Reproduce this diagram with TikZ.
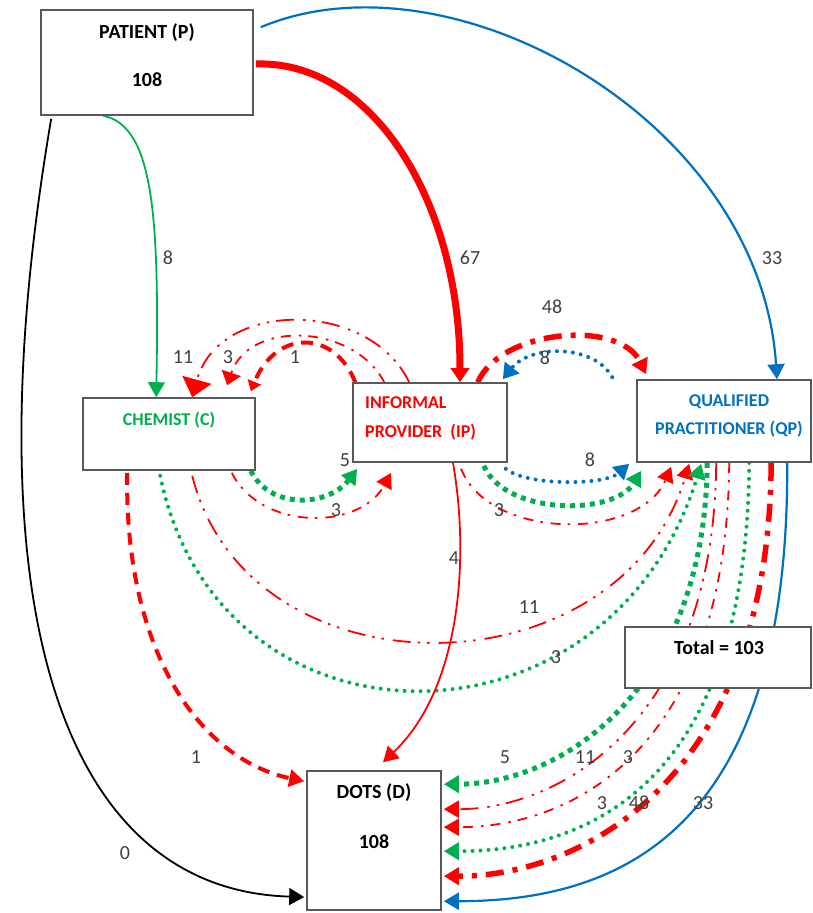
\documentclass[tikz,border=0pt]{standalone}
\usepackage{fontspec}
\setmainfont{Carlito}
\usepackage{xcolor}
\usepackage{tikz}
\usetikzlibrary{arrows.meta, calc, backgrounds}
\definecolor{ggreen}{HTML}{00B050}
\definecolor{gblue}{HTML}{0070C0}
\definecolor{gred}{HTML}{FF0000}
\definecolor{numgray}{HTML}{404040}
\tikzstyle{box} = [draw=black!65, line width=1.6pt, fill=white, inner sep=0pt]
\tikzstyle{headtext} = [font=\fontsize{20}{24}\selectfont\bfseries, inner sep=0pt]
\tikzstyle{boxtext} = [font=\fontsize{18}{22}\selectfont\bfseries, inner sep=0pt]
\tikzstyle{numtext} = [font=\fontsize{20}{24}\selectfont, text=numgray, inner sep=1pt]
\tikzstyle{tip} = [-{Triangle[width=17pt,length=15pt]}]
\tikzstyle{thinline} = [line width=1.8pt]
\tikzstyle{dotdash} = [line width=1.8pt, dash pattern=on 10pt off 7pt on 2.5pt off 8pt]
\tikzstyle{longdotdot} = [line width=1.8pt, dash pattern=on 18pt off 7pt on 2.5pt off 7pt on 2.5pt off 9pt]
\tikzstyle{fatdash} = [line width=4pt, dash pattern=on 12pt off 8pt]
\tikzstyle{fatdotdash} = [line width=5.5pt, dash pattern=on 18pt off 9pt on 5pt off 9pt]
\tikzstyle{fatdots} = [line width=5pt, dash pattern=on 5pt off 5pt]
\tikzstyle{rounddots} = [line width=4pt, line cap=round, dash pattern=on 0pt off 8pt]

\begin{document}
\begin{tikzpicture}[x=1pt, y=-1pt]
    \useasboundingbox (0,0) rectangle (813,913);

    % Boxes
    \node[box, minimum width=212pt, minimum height=105pt] (P) at (147,62.5) {};
    \node[box, minimum width=172pt, minimum height=72pt] (C) at (169,434) {};
    \node[box, minimum width=154pt, minimum height=79pt] (IP) at (430,422.5) {};
    \node[box, minimum width=174pt, minimum height=82pt] (QP) at (724,421) {};
    \node[box, minimum width=186pt, minimum height=61pt] (T) at (718,657.5) {};
    \node[box, minimum width=134pt, minimum height=139pt] (D) at (374,840.5) {};

    % Box texts
    \node[headtext] (Ptxt) at (147,33) {PATIENT (P)};
    \node[headtext] (Pnum) at (147,80) {108};
    \node[boxtext, text=ggreen] (Ctxt) at (169,420) {CHEMIST (C)};
    \node[boxtext, text=gred, align=left, anchor=west] (IPtxt) at (365,418) {INFORMAL\\[7pt]PROVIDER\ \ (IP)};
    \node[boxtext, text=gblue, align=center] (QPtxt) at (729,416) {QUALIFIED\\[6pt]PRACTITIONER (QP)};
    \node[headtext] (Ttxt) at (719,648) {Total = 103};
    \node[headtext] (Dtxt) at (374,793) {DOTS (D)};
    \node[headtext] (Dnum) at (374,842) {108};

    \begin{scope}[on background layer]
        % Patient to the others
        \draw[ggreen, thinline, tip] ($(P.south west)+(63,0)$) .. controls +(51,10) and +(3,-178) .. ($(C.north west)+(74,0)$);
        \draw[gred, line width=7pt, -{Triangle[width=18pt,length=14pt]}] ($(P.east)+(2,1.5)$) .. controls +(115,-4) and +(0,-183) .. ($(IP.north)+(30,0)$);
        \draw[gblue, line width=2.2pt, tip] ($(P.north east)+(7,18)$) .. controls +(190,-80) and +(-17,-260) .. ($(QP.north)+(53,0)$);
        \draw[black, thinline, tip] ($(P.south west)+(11,3)$) .. controls +(-82,482) and +(-245,-7) .. ($(D.west)+(-2,56.5)$);

        % Informal provider back to chemist
        \draw[gred, longdotdot, -{Triangle[width=30pt,length=18pt]}] ($(IP.north west)+(57,0)$) .. controls +(-40,-83) and +(27,-98) .. ($(C.north west)+(110,0)$);
        \draw[gred, dotdash, -{Triangle[width=20pt,length=13pt]}] ($(IP.north west)+(32,0)$) .. controls +(-30,-58) and +(22,-66) .. ($(C.north west)+(145,-12)$);
        \draw[gred, fatdash, -{Triangle[width=14pt,length=10pt]}] ($(IP.north west)+(3,0)$) .. controls +(-21,-53) and +(25,-62) .. ($(C.north east)+(-5,-6)$);

        % Chemist to informal provider
        \draw[ggreen, fatdots, tip] ($(C.south east)+(-5,0)$) .. controls +(20,40) and +(-28,37) .. ($(IP.south west)+(5,6)$);
        \draw[gred, dotdash, tip] ($(C.south east)+(-24,2)$) .. controls +(29,58) and +(-32,58) .. ($(IP.south west)+(39,10)$);

        % Informal provider and qualified practitioner
        \draw[gred, fatdotdash, tip] ($(IP.north east)+(-30,0)$) .. controls +(23,-53) and +(-27,-55) .. ($(QP.north west)+(10,-5)$);
        \draw[gblue, rounddots, -{Triangle[width=18pt,length=15pt]}] ($(QP.north west)+(-24,-2)$) .. controls +(-18,-33) and +(28,-35) .. ($(IP.north east)+(-5,-3)$);
        \draw[gblue, rounddots, tip] ($(IP.south east)+(-2,6)$) .. controls +(20,17) and +(-25,22) .. ($(QP.south west)+(-7,1)$);
        \draw[ggreen, fatdots, tip] ($(IP.south east)+(-24,3)$) .. controls +(22,50) and +(-27,45) .. ($(QP.south west)+(5,8)$);
        \draw[gred, dotdash, tip] ($(IP.south)+(31,6)$) .. controls +(29,72) and +(-32,74) .. ($(QP.south west)+(35,4)$);

        % Chemist to qualified practitioner
        \draw[gred, longdotdot, tip] ($(C.south west)+(110,5)$) .. controls +(57,225) and +(-70,232) .. ($(QP.south west)+(53,1)$);
        \draw[ggreen, rounddots, tip] ($(C.south west)+(78,5)$) .. controls +(59,287) and +(-92,299) .. ($(QP.south west)+(65,1)$);

        % Into DOTS
        \draw[gred, fatdash, tip] ($(C.south west)+(45,2)$) .. controls +(-3,178) and +(-105,-22) .. ($(D.north west)+(-2,11)$);
        \draw[gred, thinline, tip] ($(IP.south)+(23,0)$) .. controls +(17,98) and +(77,-73) .. ($(D.north)+(9,-8)$);
        \draw[ggreen, fatdots, tip] ($(QP.south west)+(71,0)$) .. controls +(-2,228) and +(117,0) .. ($(D.north east)+(2,14)$);
        \draw[gred, longdotdot, tip] ($(QP.south west)+(80,0)$) .. controls +(-2,258) and +(117,0) .. ($(D.north east)+(2,39)$);
        \draw[gred, dotdash, tip] ($(QP.south west)+(93,0)$) .. controls +(-2,278) and +(137,0) .. ($(D.north east)+(2,57)$);
        \draw[ggreen, rounddots, tip] ($(QP.south west)+(113,0)$) .. controls +(-2,308) and +(157,0) .. ($(D.north east)+(2,81)$);
        \draw[gred, fatdotdash, tip] ($(QP.south west)+(135,0)$) .. controls +(-2,318) and +(137,0) .. ($(D.north east)+(2,106)$);
        \draw[gblue, line width=2.2pt, tip] ($(QP.south west)+(151,0)$) .. controls +(2,368) and +(177,0) .. ($(D.north east)+(2,131)$);
    \end{scope}

    % Counts
    \node[numtext] (nPC) at (168,258) {8};
    \node[numtext] (nPIP) at (470,258) {67};
    \node[numtext] (nPQP) at (772,258) {33};
    \node[numtext] (nPD) at (125,853) {0};
    \node[numtext] (nIPCa) at (183,357) {11};
    \node[numtext] (nIPCb) at (228,357) {3};
    \node[numtext] (nIPCc) at (295,357) {1};
    \node[numtext] (nCIPa) at (345,460) {5};
    \node[numtext] (nCIPb) at (336,510) {3};
    \node[numtext] (nIPQPa) at (552,307) {48};
    \node[numtext] (nQPIP) at (545,358) {8};
    \node[numtext] (nIPQPb) at (590,460) {8};
    \node[numtext] (nIPQPc) at (499,510) {3};
    \node[numtext] (nIPD) at (454,558) {4};
    \node[numtext] (nCQPa) at (529,607) {11};
    \node[numtext] (nCQPb) at (556,657) {3};
    \node[numtext] (nCD) at (196,757) {1};
    \node[numtext] (nQPDa) at (505,757) {5};
    \node[numtext] (nQPDb) at (585,757) {11};
    \node[numtext] (nQPDc) at (628,757) {3};
    \node[numtext] (nQPDd) at (602,803) {3};
    \node[numtext] (nQPDe) at (639,803) {48};
    \node[numtext] (nQPDf) at (703,803) {33};
\end{tikzpicture}
\end{document}
